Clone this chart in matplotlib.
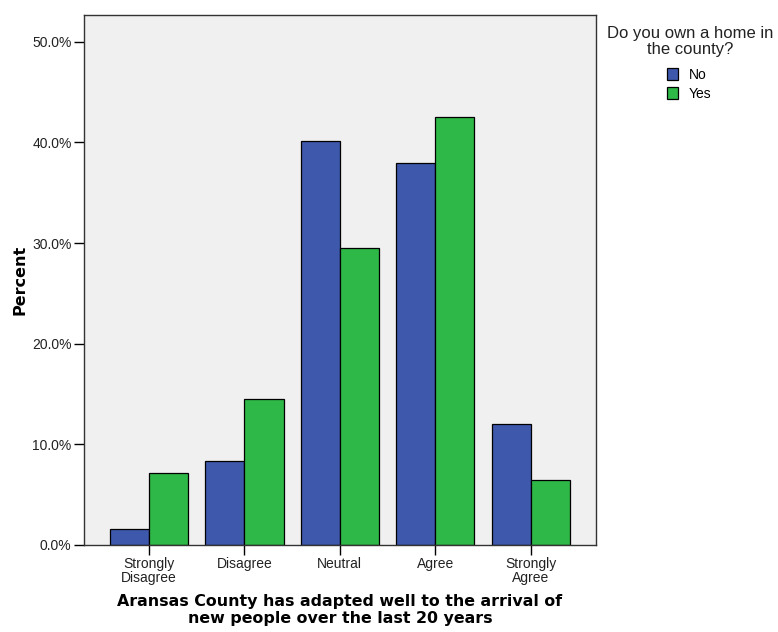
import matplotlib
matplotlib.use("Agg")
import matplotlib.pyplot as plt
import numpy as np
from matplotlib.patches import Patch

categories = ["Strongly\nDisagree", "Disagree", "Neutral", "Agree", "Strongly\nAgree"]
no_values = [1.6, 8.3, 40.1, 38.0, 12.0]
yes_values = [7.1, 14.5, 29.5, 42.5, 6.4]
series_names = ["No", "Yes"]
legend_title = "Do you own a home in\nthe county?"
colors = ["#3E58AC", "#2EB848"]
yticks = [0, 10, 20, 30, 40, 50]

fig = plt.figure(figsize=(7.78, 6.32), dpi=100)
ax = fig.add_axes([0.108, 0.1381, 0.6577, 0.8386])
ax.set_facecolor("#F0F0F0")

x = np.arange(len(categories))
w = 0.41
ax.bar(x - w / 2, no_values, w, color=colors[0], edgecolor="black", linewidth=0.9, zorder=2)
ax.bar(x + w / 2, yes_values, w, color=colors[1], edgecolor="black", linewidth=0.9, zorder=2)

ax.set_xlim(-0.68, 4.68)
ax.set_ylim(0, 52.7)
ax.set_yticks(yticks)
ax.set_yticklabels([f"{v:.1f}%" for v in yticks], fontsize=10, family="Liberation Sans", color="#222222")
ax.set_xticks(x)
ax.set_xticklabels(categories, fontsize=10, family="Liberation Sans", color="#222222", linespacing=0.95)
ax.tick_params(axis="y", length=7, width=1, pad=2)
ax.tick_params(axis="x", length=7, width=1, pad=2)
for s in ax.spines.values():
    s.set_linewidth(1)
    s.set_color("#333333")

ax.set_ylabel("Percent", fontsize=11.5, fontweight="bold", family="DejaVu Sans")
ax.yaxis.set_label_coords(-0.110, 0.5)
ax.set_xlabel("Aransas County has adapted well to the arrival of\nnew people over the last 20 years",
              fontsize=11.4, fontweight="bold", family="DejaVu Sans", labelpad=7, linespacing=1.1)

fig.text(690 / 778, 1 - 26 / 632, legend_title, ha="center", va="top", fontsize=12,
         family="Liberation Sans", linespacing=1.05, color="#222222")

handles = [Patch(facecolor=colors[i], edgecolor="black", linewidth=0.9) for i in range(2)]
leg = fig.legend(handles, series_names,
                 loc="upper left", bbox_to_anchor=(667 / 778, 1 - 68 / 632),
                 frameon=False, prop={"family": "Liberation Sans", "size": 10},
                 handlelength=0.8, handleheight=0.95, handletextpad=0.75, labelspacing=0.35,
                 borderpad=0, borderaxespad=0)

fig.savefig("out.png", dpi=100)
